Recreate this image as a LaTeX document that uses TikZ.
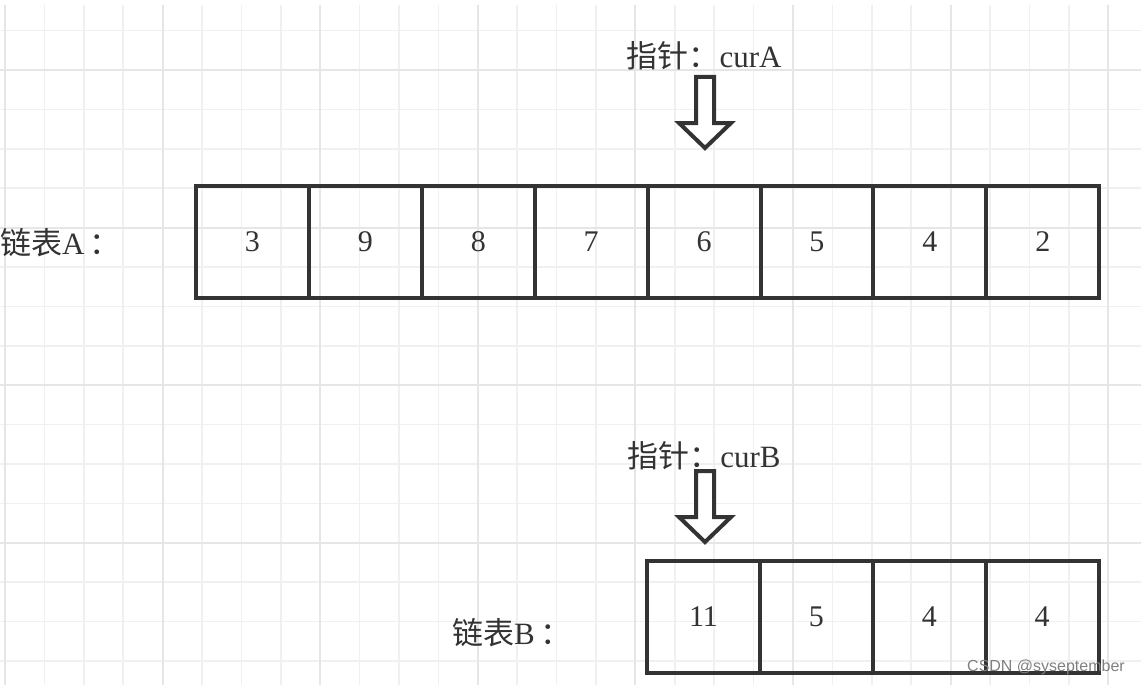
\documentclass[tikz,border=0pt]{standalone}
\usepackage{fontspec}
\setmainfont{Liberation Serif}
\newfontfamily\cjk{Noto Sans CJK SC}
\newfontfamily\wmfont{Liberation Sans}
\definecolor{ink}{HTML}{333333}
\definecolor{gridminor}{HTML}{F0F0F0}
\definecolor{gridmajor}{HTML}{E6E6E6}
\tikzset{
  gridline/.style={gridminor,line width=1.6pt},
  gridbold/.style={gridmajor,line width=2pt},
  cell/.style={draw=ink,line width=4pt,minimum width=112.9pt,minimum height=112pt,inner sep=0pt,outer sep=0pt,text=ink,font=\fontsize{30}{34}\selectfont},
  txt/.style={text=ink,inner sep=0pt,font=\fontsize{31}{36}\selectfont},
  pointer/.style={draw=ink,line width=4pt,line join=miter,fill=white},
  wm/.style={text=black!50,inner sep=0pt,font=\wmfont\fontsize{16}{18}\selectfont}
}
\newcommand{\pointerarrow}[2]{%
  \draw[pointer] (#1-9,#2) -- (#1+9,#2) -- (#1+9,#2+46) -- (#1+26,#2+46) -- (#1,#2+71)
    -- (#1-26,#2+46) -- (#1-9,#2+46) -- cycle;}
\begin{document}
\begin{tikzpicture}[x=1pt,y=-1pt]
\useasboundingbox (0,0) rectangle (1141,685);
\fill[white] (0,0) rectangle (1141,685);
\begin{scope}
\foreach \i in {0,...,28} \draw[gridline] ({5+39.4*\i},5) -- ({5+39.4*\i},685);
\foreach \i in {-1,...,15} \draw[gridline] (0,{70+39.4*\i}) -- (1141,{70+39.4*\i});
\foreach \i in {0,...,7} \draw[gridbold] ({5+157.6*\i},5) -- ({5+157.6*\i},685);
\foreach \i in {0,...,3} \draw[gridbold] (0,{70+157.6*\i}) -- (1141,{70+157.6*\i});
\end{scope}
\begin{scope}
\node[txt,anchor=west] (nameA) at (0,243) {{\cjk 链表}A\,{\cjk ：}};
\foreach \v [count=\i] in {3,9,8,7,6,5,4,2} \node[cell] (a\i) at ({196+112.9*(\i-0.5)},242) {\v};
\node[txt] (curA) at (704,56) {{\cjk 指针：}curA};
\pointerarrow{705}{77}
\end{scope}
\begin{scope}
\node[txt,anchor=west] (nameB) at (452,633) {{\cjk 链表}B\,{\cjk ：}};
\foreach \v [count=\i] in {11,5,4,4} \node[cell] (b\i) at ({647+112.9*(\i-0.5)},617) {\v};
\node[txt] (curB) at (704,456) {{\cjk 指针：}curB};
\pointerarrow{705}{471}
\end{scope}
\node[wm] (mark) at (1046,667) {CSDN @syseptember};
\end{tikzpicture}
\end{document}
